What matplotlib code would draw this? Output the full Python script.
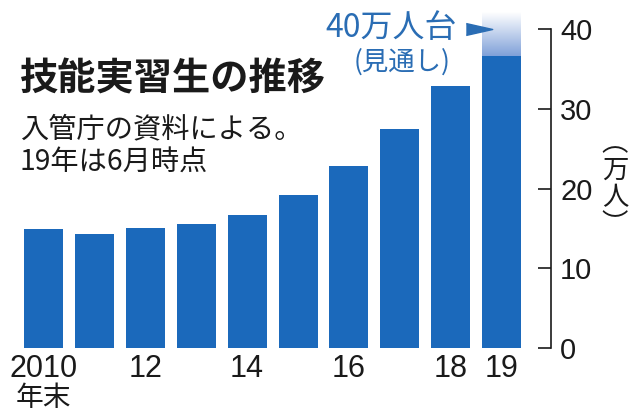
import matplotlib
matplotlib.use("Agg")
import matplotlib.pyplot as plt
import numpy as np
from matplotlib.colors import LinearSegmentedColormap

# ---- data ----
years = ["2010", "2011", "2012", "2013", "2014", "2015", "2016", "2017", "2018", "2019"]
values = [14.9, 14.3, 15.1, 15.5, 16.7, 19.2, 22.8, 27.4, 32.8, 36.6]
xtick_labels = ["2010", "", "12", "", "14", "", "16", "", "18", "19"]
yticks = [0, 10, 20, 30, 40]
outlook_value = 40
outlook_top = 42

BLUE = "#1b69bb"
TXTBLUE = "#2a6db4"
NUM_FONT = ["Liberation Sans Narrow", "Liberation Sans", "DejaVu Sans"]
JP_FONT = ["Noto Sans CJK JP", "DejaVu Sans"]

W, H = 640, 413
fig = plt.figure(figsize=(W / 100, H / 100), dpi=100)
fig.patch.set_facecolor("white")

def fx(px):
    return px / W

def fy(py):
    return 1 - py / H

ax = fig.add_axes([0, fy(348), 551 / W, (348 - 29) / H])
x = np.arange(len(years))
ax.bar(x, values, width=0.766, color=BLUE, zorder=2)

# gradient extension for 2019 outlook
cmap = LinearSegmentedColormap.from_list("fade", [(0.50, 0.63, 0.85), (1, 1, 1)])
grad = np.linspace(0, 1, 256).reshape(-1, 1)
xi = len(years) - 1
ax.imshow(grad, cmap=cmap, aspect="auto", origin="lower",
          extent=[xi - 0.383, xi + 0.383, values[-1], outlook_top],
          clip_on=False, zorder=1)

ax.set_xlim(-0.855, 9.97)
ax.set_ylim(0, 40)

for s in ["top", "left", "bottom"]:
    ax.spines[s].set_visible(False)
ax.spines["right"].set_linewidth(1.2)
ax.spines["right"].set_color("#1a1a1a")

ax.yaxis.tick_right()
ax.set_yticks(yticks)
ax.set_yticklabels([str(v) for v in yticks], family=NUM_FONT, fontsize=21, color="#1a1a1a")
ax.tick_params(axis="y", direction="in", length=9.4, width=1.2, pad=6.5, colors="#1a1a1a")

ax.set_xticks(x)
ax.set_xticklabels(xtick_labels, family=NUM_FONT, fontsize=22, color="#1a1a1a")
ax.tick_params(axis="x", length=0, pad=4.5)

# outlook arrow marker
ax.plot([8.55], [outlook_value], marker=[(-1, -0.45), (1, 0), (-1, 0.45)],
        markersize=19, color=TXTBLUE, clip_on=False, linestyle="none")

# texts
fig.text(fx(43), fy(398), "年末", family=JP_FONT, fontsize=20, ha="center", va="center", color="#1a1a1a")
fig.text(fx(20), fy(79), "技能実習生の推移", family=JP_FONT, fontsize=27.5, fontweight="bold",
         ha="left", va="center", color="#1a1a1a")
fig.text(fx(20), fy(129), "入管庁の資料による。", family=JP_FONT, fontsize=20.3,
         ha="left", va="center", color="#1a1a1a")
fig.text(fx(20), fy(163), "19年は6月時点", family=JP_FONT, fontsize=20.3,
         ha="left", va="center", color="#1a1a1a")
fig.text(fx(457), fy(28), "40万人台", family=JP_FONT, fontsize=23, fontweight="normal",
         ha="right", va="center", color=TXTBLUE)
fig.text(fx(402), fy(62), "(見通し)", family=JP_FONT, fontsize=19,
         ha="center", va="center", color=TXTBLUE)
fig.text(fx(615), fy(184), "︵\n万\n人\n︶", family=JP_FONT, fontsize=19,
         ha="center", va="center", color="#1a1a1a", linespacing=1.0)

fig.savefig("out.png", dpi=100, facecolor="white")
